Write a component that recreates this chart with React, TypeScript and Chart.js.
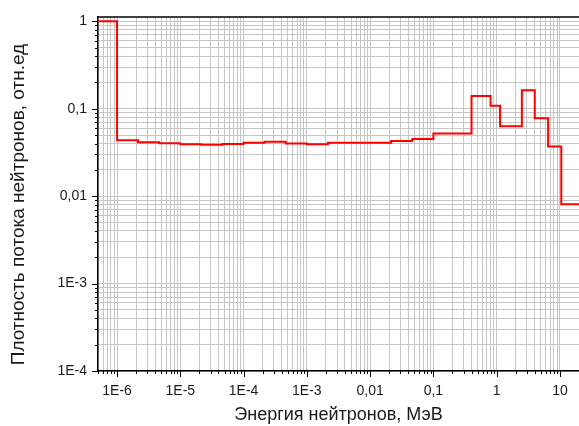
import React, { useEffect, useRef } from 'react';
import { Chart, registerables } from 'chart.js';

Chart.register(...registerables);

// Energy bin edges, MeV (lower edges + final upper edge)
const binEdges = [
  5e-7, 1e-6, 2.15e-6, 4.64e-6, 1e-5, 2.15e-5, 4.64e-5, 1e-4, 2.15e-4, 4.64e-4,
  1e-3, 2.15e-3, 0.0215, 0.0464, 0.1, 0.4, 0.8, 1.13, 2.5, 4, 6.5, 10.5, 20,
];
// Relative flux density per bin
const fluxLevels = [
  1.0, 0.0437, 0.0414, 0.0403, 0.0393, 0.0388, 0.0396, 0.0407, 0.0418, 0.04,
  0.0393, 0.0407, 0.0428, 0.0452, 0.0521, 0.14, 0.108, 0.063, 0.163, 0.078,
  0.037, 0.0081,
];

const xTickValues = [1e-6, 1e-5, 1e-4, 1e-3, 0.01, 0.1, 1, 10];
const xTickLabels = ['1E-6', '1E-5', '1E-4', '1E-3', '0,01', '0,1', '1', '10'];
const yTickValues = [1e-4, 1e-3, 0.01, 0.1, 1];
const yTickLabels = ['1E-4', '1E-3', '0,01', '0,1', '1'];

const xTitle = 'Энергия нейтронов, МэВ';
const yTitle = 'Плотность потока нейтронов, отн.ед';

const X_MIN = 5e-7;
const X_MAX = 20;
const Y_MIN = 1e-4;
const Y_MAX = 1.12;

const FONT = '"Liberation Sans", Arial, sans-serif';

function logTicks(min: number, max: number) {
  const out: { value: number }[] = [];
  const e0 = Math.floor(Math.log10(min));
  const e1 = Math.ceil(Math.log10(max));
  for (let e = e0; e <= e1; e++) {
    for (let m = 1; m <= 9; m++) {
      const v = parseFloat(`${m}e${e}`);
      if (v >= min * 0.999999 && v <= max * 1.000001) out.push({ value: v });
    }
  }
  return out;
}

function isMajor(v: number) {
  const l = Math.log10(v);
  return Math.abs(l - Math.round(l)) < 1e-6;
}

function labelFor(values: number[], labels: string[], value: number) {
  const i = values.findIndex((v) => Math.abs(Math.log10(v) - Math.log10(value)) < 1e-6);
  return i >= 0 ? labels[i] : '';
}

const tickMarks = {
  id: 'tickMarks',
  afterDraw(chart: any) {
    const { ctx, chartArea, scales } = chart;
    const line = (x1: number, y1: number, x2: number, y2: number) => {
      ctx.beginPath();
      ctx.moveTo(x1, y1);
      ctx.lineTo(x2, y2);
      ctx.stroke();
    };
    ctx.save();
    ctx.strokeStyle = '#000';
    ctx.lineWidth = 1;
    scales.x.ticks.forEach((t: any) => {
      const px = Math.round(scales.x.getPixelForValue(t.value)) + 0.5;
      const len = isMajor(t.value) ? 6 : 3;
      line(px, chartArea.bottom, px, chartArea.bottom + len);
    });
    scales.y.ticks.forEach((t: any) => {
      const py = Math.round(scales.y.getPixelForValue(t.value)) + 0.5;
      const len = isMajor(t.value) ? 6 : 3;
      line(chartArea.left - len, py, chartArea.left, py);
    });
    ctx.lineWidth = 1.5;
    line(chartArea.left, chartArea.top, chartArea.right, chartArea.top);
    ctx.restore();
  },
};

export default function App() {
  const ref = useRef<HTMLCanvasElement | null>(null);

  useEffect(() => {
    if (!ref.current) return;
    const points = binEdges.map((x, i) => ({
      x,
      y: fluxLevels[Math.min(i, fluxLevels.length - 1)],
    }));
    const chart = new Chart(ref.current, {
      type: 'line',
      data: {
        datasets: [
          {
            data: points,
            stepped: 'before',
            borderColor: '#ff0000',
            borderWidth: 2,
            pointRadius: 0,
            fill: false,
          },
        ],
      },
      options: {
        animation: false,
        responsive: false,
        maintainAspectRatio: false,
        layout: { padding: { top: 17, right: 0, left: 0, bottom: 0 } },
        plugins: { legend: { display: false }, tooltip: { enabled: false } },
        scales: {
          x: {
            type: 'logarithmic',
            min: X_MIN,
            max: X_MAX,
            afterBuildTicks: (scale: any) => {
              scale.ticks = logTicks(scale.min, scale.max);
            },
            afterFit: (scale: any) => {
              scale.height = 55;
              scale.paddingRight = 0;
              scale.paddingLeft = 0;
            },
            grid: { color: '#c6c6c6', lineWidth: 1, drawTicks: false },
            border: { color: '#000', width: 1.5 },
            ticks: {
              autoSkip: false,
              maxRotation: 0,
              padding: 12,
              color: '#1a1a1a',
              font: { family: FONT, size: 14 },
              callback: (value: any) => labelFor(xTickValues, xTickLabels, Number(value)),
            },
            title: {
              display: true,
              text: xTitle,
              color: '#1a1a1a',
              font: { family: FONT, size: 18 },
              padding: { top: 0, bottom: 0 },
            },
          },
          y: {
            type: 'logarithmic',
            min: Y_MIN,
            max: Y_MAX,
            afterBuildTicks: (scale: any) => {
              scale.ticks = logTicks(scale.min, scale.max);
            },
            afterFit: (scale: any) => {
              scale.width = 98;
              scale.paddingTop = 0;
              scale.paddingBottom = 0;
            },
            grid: { color: '#c6c6c6', lineWidth: 1, drawTicks: false },
            border: { color: '#000', width: 1.5 },
            ticks: {
              autoSkip: false,
              padding: 11,
              color: '#1a1a1a',
              font: { family: FONT, size: 14 },
              callback: (value: any) => labelFor(yTickValues, yTickLabels, Number(value)),
            },
            title: {
              display: true,
              text: yTitle + '    ',
              color: '#1a1a1a',
              font: { family: FONT, size: 19 },
              padding: { top: 7, bottom: 0 },
            },
          },
        },
      },
      plugins: [tickMarks],
    } as any);
    return () => chart.destroy();
  }, []);

  return (
    <div style={{ position: 'absolute', left: 0, top: 0, width: 579, height: 426, background: '#fff' }}>
      <canvas ref={ref} width={579} height={426} style={{ display: 'block' }} />
    </div>
  );
}
